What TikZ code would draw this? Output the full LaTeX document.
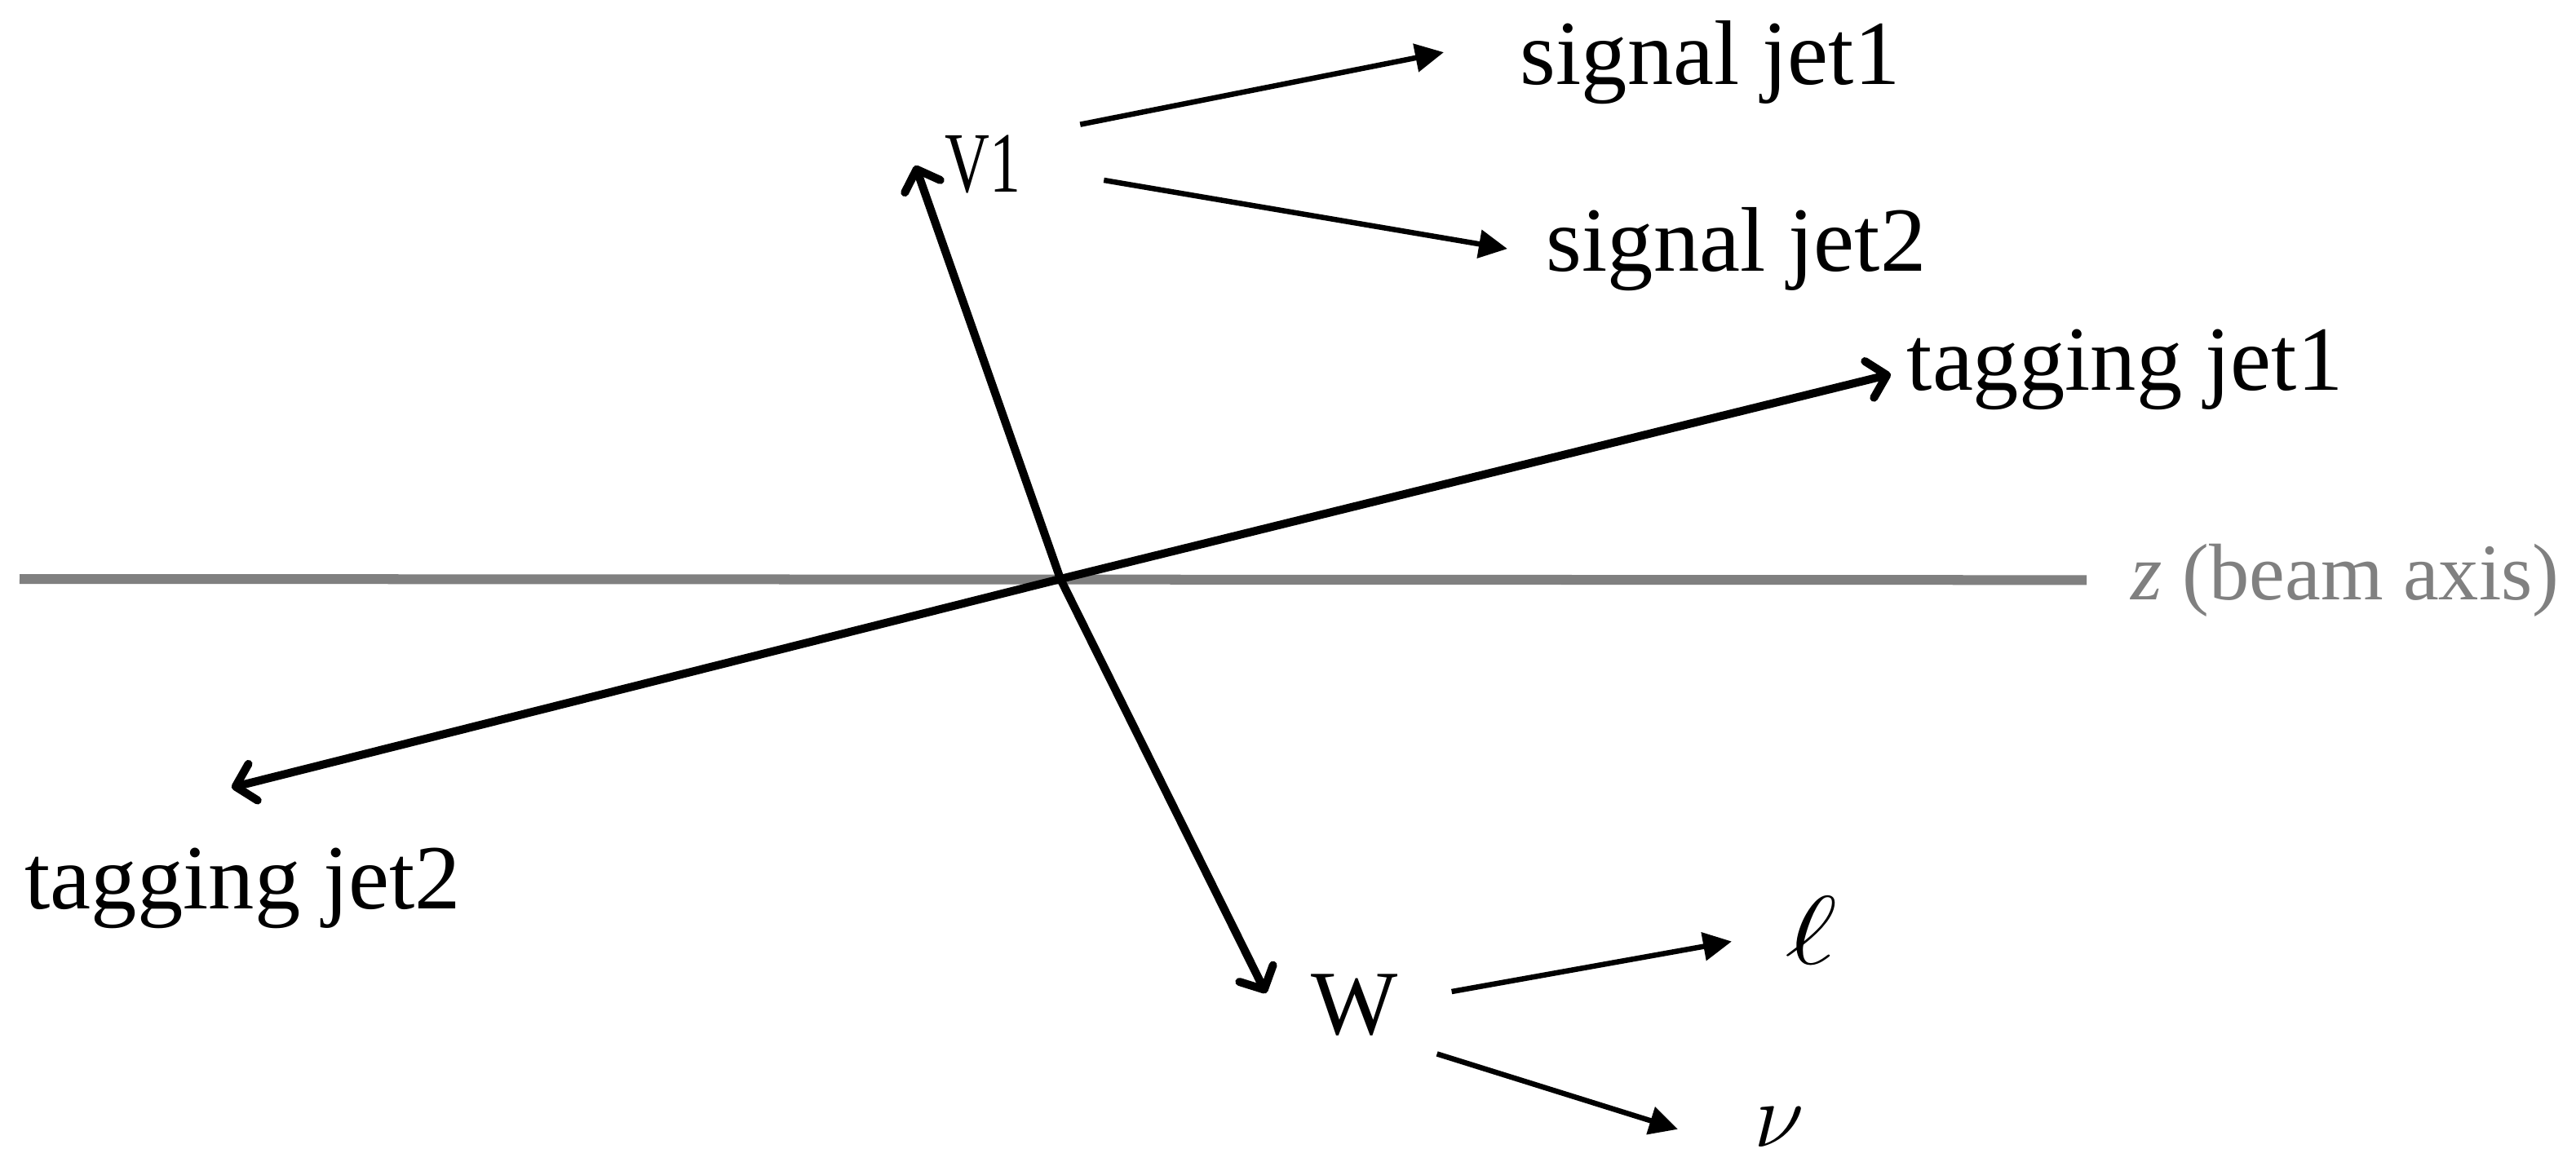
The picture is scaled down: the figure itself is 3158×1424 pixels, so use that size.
\RequirePackage{fix-cm}
\documentclass[tikz,border=0pt]{standalone}
\usepackage{fontspec}
\setmainfont{Liberation Serif}
\usetikzlibrary{arrows.meta, calc}
\definecolor{beamgray}{RGB}{128, 128, 128}

\begin{document}
\begin{tikzpicture}[
        x=0.01cm, y=-0.01cm,
        lbl/.style={inner sep=0pt, anchor=base west, font=\fontsize{32}{38}\selectfont},
        jet/.style={-{Straight Barb[length=0.22cm, width=0.46cm, round]}, line width=0.1cm, line cap=round},
        decay/.style={-{Triangle[length=0.35cm, width=0.34cm]}, line width=0.065cm},
        beam/.style={draw=beamgray, line width=0.12cm}
    ]
        \useasboundingbox (0,0) rectangle (3158,1424);

        % Nodes
        \coordinate (o) at (1300,710);
        \coordinate (zstart) at (24,710);
        \node[lbl, font=\fontsize{28}{34}\selectfont, text=beamgray] (zlab) at (2612,735) {\textit{z} (beam axis)};
        \node[lbl, font=\fontsize{30}{36}\selectfont] (v1) at (1158,235) {\scalebox{0.72}[1]{V1}};
        \node[lbl] (w) at (1607,1268) {W};
        \node[lbl] (sj1) at (1863,103) {signal jet1};
        \node[lbl] (sj2) at (1895,332) {signal jet2};
        \node[lbl] (tj1) at (2337,478) {tagging jet1};
        \node[lbl] (tj2) at (30,1114) {tagging jet2};
        \node[lbl, font=\fontsize{34}{40}\selectfont] (lep) at (2188,1182) {\scalebox{1.3}[1]{$\ell$}};
        \node[lbl] (nu) at (2150,1406) {$\nu$};

        % Edges
        \draw[beam] (zstart) -- ($(zlab.west)+(-54,0)$);

        \draw[jet] (o) -- ($(tj1.west)+(-19,6)$);
        \draw[jet] (o) -- ($(tj2.north)+(-14,-73)$);
        \draw[jet] (o) -- ($(v1.west)+(-36,2)$);
        \draw[jet] (o) -- ($(w.west)+(-55,-14)$);

        \draw[decay] ($(v1.north east)+(72,-12)$) -- ($(sj1.west)+(-93,-12)$);
        \draw[decay] ($(v1.east)+(101,20)$) -- ($(sj2.west)+(-47,0)$);
        \draw[decay] ($(w.east)+(65,-16)$) -- ($(lep.west)+(-65,14)$);
        \draw[decay] ($(w.south east)+(47,22)$) -- ($(nu.west)+(-93,3)$);

    \end{tikzpicture}
\end{document}
